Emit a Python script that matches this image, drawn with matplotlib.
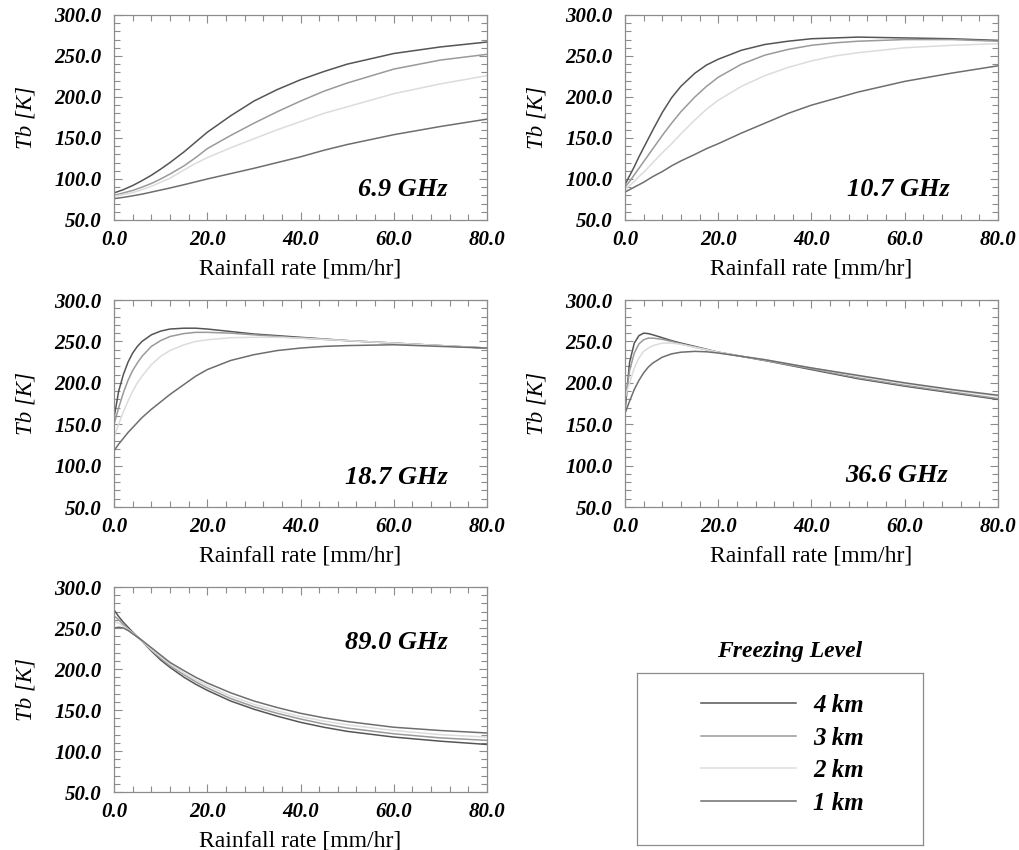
import matplotlib
matplotlib.use("Agg")
import matplotlib.pyplot as plt
from matplotlib.ticker import MultipleLocator, FormatStrFormatter

plt.rcParams['font.family'] = ['Liberation Serif', 'DejaVu Serif']

# rainfall rate [mm/hr]
rain = [0, 1, 2, 3, 4, 5, 6, 8, 10, 12, 15, 17.5, 20, 25, 30, 35, 40, 45, 50, 60, 70, 80]

levels = ['4 km', '3 km', '2 km', '1 km']
colors = ['#555555', '#9a9a9a', '#dcdcdc', '#6e6e6e']

# Tb [K] per channel, one list per freezing level (4, 3, 2, 1 km)
tb_069 = [
    [83, 85, 87, 89.5, 92, 95, 98, 104.5, 112, 120, 133, 145, 157, 177, 195, 209, 221, 231, 240, 253, 261, 267],
    [80, 81.5, 83, 84.5, 86, 88, 90, 94.5, 100, 106, 116, 126, 137, 153, 168, 182, 195, 207, 217, 234, 245, 252],
    [79, 80, 81, 82, 83.5, 85, 87, 91, 96, 101, 111, 119, 126, 138, 149, 160, 170, 180, 188, 204, 216, 226],
    [76, 76.8, 77.6, 78.5, 79.5, 80.5, 81.5, 84, 86.5, 89, 93, 96.5, 100, 106.5, 113, 120, 127, 135, 142, 154, 164, 173],
]
tb_107 = [
    [93, 104, 115, 127, 138, 149, 160, 181, 199, 213, 229, 239, 246, 257, 264, 268, 271, 272, 273, 272, 271, 269],
    [90, 97, 105, 113, 121, 129, 137, 153, 168, 182, 200, 213, 224, 240, 251, 258, 263, 266, 268, 270, 270, 268],
    [87, 92, 97, 103, 108, 114, 120, 132, 143, 155, 172, 185, 196, 213, 226, 236, 244, 250, 254, 260, 263, 265],
    [84, 87, 90, 93, 96, 99.5, 103, 109, 116, 122, 130, 137, 143, 156, 168, 180, 190, 198, 206, 219, 229, 238],
]
tb_187 = [
    [158, 190, 210, 225, 236, 244, 250, 258, 262.5, 265, 266, 266, 265, 262, 259, 257, 255, 253, 251, 248, 245, 242],
    [150, 170, 188, 203, 215, 224, 232, 244, 251, 256, 259.5, 261, 261, 260, 258, 256, 254, 252.5, 251, 248, 245, 242],
    [135, 150, 165, 178, 190, 200, 208, 222, 232, 239, 246, 250, 252, 254.5, 255, 255, 254, 252.5, 251, 248, 245, 242],
    [118, 126, 133, 140, 146, 152, 158, 168, 177, 186, 198, 208, 216, 227, 234, 239, 242, 244, 245, 246, 244, 242],
]
tb_366 = [
    [165, 225, 248, 257, 260, 259.5, 258, 254.5, 251, 248, 244, 240.5, 237, 232, 227, 221.5, 216, 210.5, 205, 196, 188, 180],
    [175, 215, 236, 247, 252, 254, 254, 252.5, 250, 247, 243, 240, 237, 232, 227, 222, 217, 211.5, 206, 197, 189, 181],
    [182, 200, 218, 230, 238, 242, 245, 248, 248, 246.5, 243, 240, 237, 232, 228, 223, 218, 213, 208, 199, 191, 184],
    [163, 178, 192, 203, 212, 219, 224, 231, 235, 237, 238, 237.5, 236, 232, 228, 223, 218, 213.5, 209, 200, 192, 185],
]
tb_890 = [
    [272, 264, 257, 251, 245, 239.5, 234, 222, 211, 202, 190, 181.5, 174, 161, 151, 142.5, 135, 129, 124, 117, 112, 108],
    [265, 260, 254, 249, 244, 239, 234, 223, 213, 204, 193, 184.5, 177, 164, 154, 146, 139, 133, 128, 121, 116, 113],
    [258, 256, 252, 248, 244, 239, 234, 224, 215, 206, 195, 187, 180, 167, 157, 149, 142, 136.5, 132, 125, 120, 117],
    [250, 251, 250, 247, 243, 239, 235, 226, 217, 208, 198, 190, 183, 171, 161, 153, 146, 140.5, 136, 129, 125, 122],
]

channels = ['6.9 GHz', '10.7 GHz', '18.7 GHz', '36.6 GHz', '89.0 GHz']
panel_data = [tb_069, tb_107, tb_187, tb_366, tb_890]

# axes rectangles in figure fractions, and where the channel label sits
rects = [
    [0.1118, 0.7412, 0.3657, 0.2412],
    [0.6127, 0.7412, 0.3657, 0.2412],
    [0.1118, 0.4035, 0.3657, 0.2435],
    [0.6127, 0.4035, 0.3657, 0.2435],
    [0.1118, 0.0682, 0.3657, 0.2412],
]
label_pos = [(0.895, 0.15), (0.872, 0.15), (0.895, 0.145), (0.865, 0.15), (0.895, 0.73)]

fig = plt.figure(figsize=(10.2, 8.5), dpi=100)
spine_col = '#8c8c8c'
lines = []

for i in range(5):
    ax = fig.add_axes(rects[i])
    for tb, col in zip(panel_data[i], colors):
        ln, = ax.plot(rain, tb, color=col, lw=1.1)
        if i == 0:
            lines.append(ln)
    ax.set_xlim(0, 80)
    ax.set_ylim(50, 300)
    ax.xaxis.set_major_locator(MultipleLocator(20))
    ax.xaxis.set_minor_locator(MultipleLocator(4))
    ax.yaxis.set_major_locator(MultipleLocator(50))
    ax.yaxis.set_minor_locator(MultipleLocator(10))
    ax.xaxis.set_major_formatter(FormatStrFormatter('%.1f'))
    ax.yaxis.set_major_formatter(FormatStrFormatter('%.1f'))
    ax.tick_params(which='both', direction='in', top=True, right=True, color=spine_col, width=0.8)
    ax.tick_params(which='major', length=6, labelsize=15)
    ax.tick_params(which='minor', length=4)
    ax.tick_params(axis='y', which='major', pad=9)
    ax.tick_params(axis='x', which='major', pad=7)
    for lab in ax.get_xticklabels() + ax.get_yticklabels():
        lab.set_fontweight('bold')
        lab.set_fontstyle('italic')
    for s in ax.spines.values():
        s.set_color(spine_col)
        s.set_linewidth(0.9)
    ax.set_xlabel('Rainfall rate [mm/hr]', fontsize=17, labelpad=6)
    ax.set_ylabel('Tb [K]', fontsize=16.5, style='italic', labelpad=13)
    ax.text(label_pos[i][0], label_pos[i][1], channels[i], transform=ax.transAxes,
            ha='right', va='center', fontsize=19, fontweight='bold', style='italic')

# legend box
lax = fig.add_axes([637 / 1020, 1 - 845 / 850, 286 / 1020, 172 / 850])
lax.set_xticks([])
lax.set_yticks([])
for s in lax.spines.values():
    s.set_color(spine_col)
    s.set_linewidth(0.9)
fig.text(790 / 1020, 1 - 652 / 850, 'Freezing Level', ha='center', va='center',
         fontsize=17, fontweight='bold', style='italic')
leg = lax.legend(lines, levels, loc='upper left', bbox_to_anchor=(0.18, 0.95),
                 frameon=False, borderpad=0, handlelength=3.8, handletextpad=0.7,
                 labelspacing=0.38, prop={'size': 18, 'weight': 'bold', 'style': 'italic'})

fig.savefig('out.png', dpi=100)
